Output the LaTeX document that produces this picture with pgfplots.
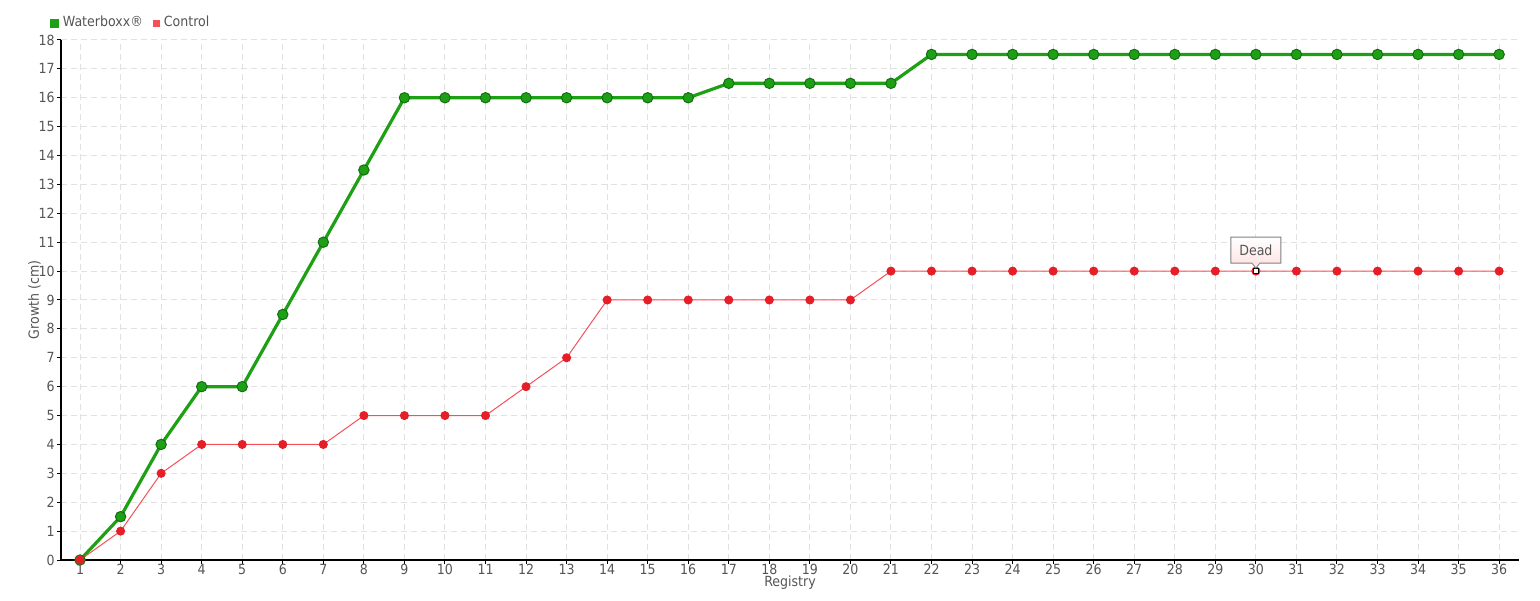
\documentclass[border=0pt]{standalone}
\usepackage{fontspec}
\setmainfont{DejaVu Sans Condensed}
\usepackage{pgfplots}
\pgfplotsset{compat=1.18}
\usetikzlibrary{shapes.callouts}
\definecolor{wgreen}{RGB}{30,160,20}
\definecolor{wgreendk}{RGB}{20,110,20}
\definecolor{cred}{RGB}{230,30,40}
\definecolor{credl}{RGB}{245,80,90}
\definecolor{txt}{RGB}{85,85,85}
\definecolor{gridc}{RGB}{225,225,225}
\begin{document}
\begin{tikzpicture}
\begin{axis}[name=ax,
  scale only axis, width=729pt, height=260pt,
  xmin=0.53, xmax=36.49, ymin=0, ymax=18,
  xtick={1,...,36}, ytick={0,...,18},
  grid=major, major grid style={gridc, dash pattern=on 3pt off 2pt, line width=0.5pt},
  axis x line*=bottom, axis y line*=left,
  axis line style={black, line width=0.6pt, -},
  tick style={black, line width=0.5pt},
  tick align=outside, major tick length=2pt,
  ticklabel style={font=\fontsize{7}{8}\selectfont, text=txt},
  xticklabel style={inner sep=0.5pt, yshift=0.5pt},
  yticklabel style={inner sep=1pt},
  /pgf/number format/assume math mode=true,
  xlabel={Registry}, ylabel={Growth (cm)},
  label style={font=\fontsize{7}{8}\selectfont, text=txt},
  xlabel style={at={(axis description cs:0.5,0)}, anchor=north, yshift=-7.5pt, inner sep=0pt},
  ylabel style={at={(axis description cs:0,0.5)}, anchor=south, yshift=10pt, inner sep=0pt},
  legend style={at={(-0.008,1)}, yshift=2.8pt, anchor=south west, draw=none, fill=none,
    font=\fontsize{7}{8}\selectfont, text=txt, legend columns=2,
    /tikz/every even column/.append style={column sep=3pt}, inner sep=0pt},
  legend image code/.code={\fill[#1] (0.5pt,-1.5pt) rectangle (3.5pt,1.5pt);},
  clip=false,
]
\addplot[wgreen, line width=1.6pt, mark=*, mark size=2.6pt,
  mark options={fill=wgreen, draw=wgreendk, line width=0.5pt}] coordinates {
(1,0)(2,1.5)(3,4)(4,6)(5,6)(6,8.5)(7,11)(8,13.5)(9,16)(10,16)(11,16)(12,16)(13,16)(14,16)(15,16)(16,16)
(17,16.5)(18,16.5)(19,16.5)(20,16.5)(21,16.5)
(22,17.5)(23,17.5)(24,17.5)(25,17.5)(26,17.5)(27,17.5)(28,17.5)(29,17.5)(30,17.5)(31,17.5)(32,17.5)(33,17.5)(34,17.5)(35,17.5)(36,17.5)};
\addlegendentry{Waterboxx®}
\addplot[credl, line width=0.5pt, mark=*, mark size=2pt,
  mark options={fill=cred, draw=cred}] coordinates {
(1,0)(2,1)(3,3)(4,4)(5,4)(6,4)(7,4)(8,5)(9,5)(10,5)(11,5)(12,6)(13,7)(14,9)(15,9)(16,9)(17,9)(18,9)(19,9)(20,9)
(21,10)(22,10)(23,10)(24,10)(25,10)(26,10)(27,10)(28,10)(29,10)(30,10)(31,10)(32,10)(33,10)(34,10)(35,10)(36,10)};
\addlegendentry{Control}
\addplot[only marks, mark=square*, mark size=1.3pt, mark options={fill=white, draw=black, line width=0.6pt}, forget plot] coordinates {(30,10)};
\coordinate (p) at (axis cs:30,10);
\end{axis}
\node[rectangle callout, draw=gray, line width=0.4pt, top color=white, bottom color=red!12,
  font=\fontsize{7}{8}\selectfont, text=txt, minimum width=25pt, minimum height=13pt,
  inner sep=1pt, callout absolute pointer={([yshift=1.5pt]p)},
  callout pointer width=4pt] at ([yshift=10.5pt]p) {Dead};
\path ([xshift=-30.5pt,yshift=-20pt]ax.south west) rectangle ([xshift=10.5pt,yshift=20pt]ax.north east);
\end{tikzpicture}
\end{document}
